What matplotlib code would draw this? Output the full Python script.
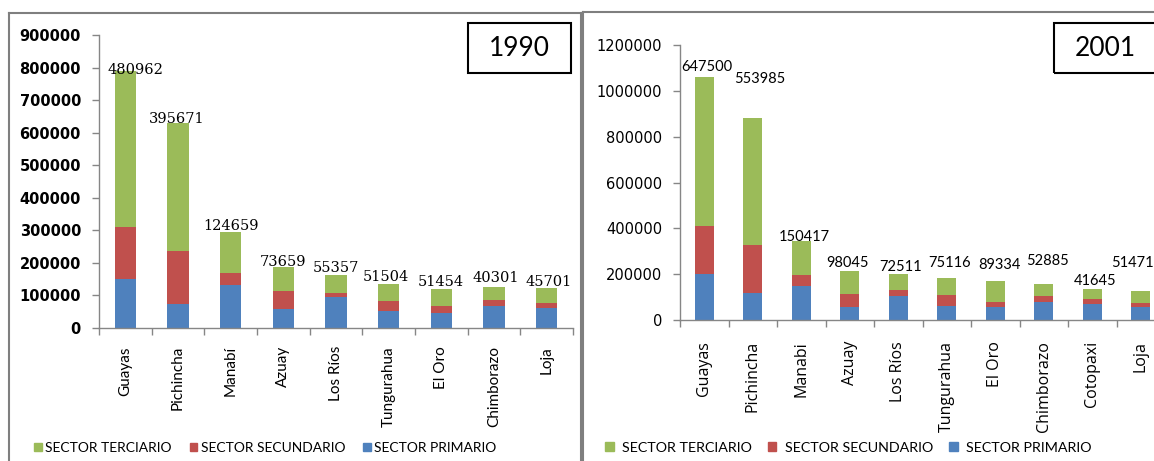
import matplotlib
matplotlib.use("Agg")
import matplotlib.pyplot as plt
from matplotlib.patches import Patch, Rectangle
from matplotlib.lines import Line2D
import numpy as np

# ---------------- data ----------------
prov_1990 = ["Guayas", "Pichincha", "Manabí", "Azuay", "Los Ríos",
             "Tungurahua", "El Oro", "Chimborazo", "Loja"]
primario_1990 = [151000, 75000, 133000, 58000, 96000, 53000, 47000, 69000, 62000]
secundario_1990 = [158000, 160000, 37000, 57000, 12000, 30000, 21000, 17000, 15000]
terciario_1990 = [480962, 395671, 124659, 73659, 55357, 51504, 51454, 40301, 45701]

prov_2001 = ["Guayas", "Pichincha", "Manabi", "Azuay", "Los Ríos",
             "Tungurahua", "El Oro", "Chimborazo", "Cotopaxi", "Loja"]
primario_2001 = [200000, 116000, 150000, 55000, 106000, 62000, 58000, 80000, 70000, 58000]
secundario_2001 = [211000, 211000, 45000, 60000, 24000, 45000, 22000, 23000, 22000, 16000]
terciario_2001 = [647500, 553985, 150417, 98045, 72511, 75116, 89334, 52885, 41645, 51471]

series_names = ["SECTOR TERCIARIO", "SECTOR SECUNDARIO", "SECTOR PRIMARIO"]

# label nudges (pixels, dx / dy above bar top) - styling only
nudge_1990 = [(10, 1), (-1, 4), (0, 6), (0, 5), (0, 7), (-3, 7), (-1, 7), (2, 9), (2, 6)]
nudge_2001 = [(3, 10), (7, 39), (3, 4), (-2, 8), (2, 7), (3, 15), (4, 16), (4, 23), (3, 8), (-8, 28)]

C_PRI = "#4F81BD"
C_SEC = "#C0504D"
C_TER = "#9BBB59"
AX_GRAY = "#868686"

W, H = 1154, 461
fig = plt.figure(figsize=(W / 100, H / 100), dpi=100)


def fx(px):
    return px / W


def fy(py):
    return 1 - py / H


def draw_panel(ax, cats, pri, sec, ter, ymax, ystep, nudges,
               ytick_kw, xlab_kw, xpad, dlab_kw):
    x = np.arange(len(cats))
    pri = np.array(pri)
    sec = np.array(sec)
    ter = np.array(ter)
    w = 0.4
    ax.bar(x, pri, w, color=C_PRI, linewidth=0)
    ax.bar(x, sec, w, bottom=pri, color=C_SEC, linewidth=0)
    ax.bar(x, ter, w, bottom=pri + sec, color=C_TER, linewidth=0)
    tops = pri + sec + ter
    for xi, t, v, (dx, dy) in zip(x, tops, ter, nudges):
        ax.annotate(f"{v}", (xi, t), xytext=(dx * 0.72, dy * 0.72),
                    textcoords="offset points", ha="center", va="center",
                    annotation_clip=False, **dlab_kw)
    ax.set_xlim(-0.5, len(cats) - 0.5)
    ax.set_ylim(0, ymax)
    ax.set_yticks(np.arange(0, ymax + 1, ystep))
    ax.set_yticklabels([f"{int(v)}" for v in np.arange(0, ymax + 1, ystep)], **ytick_kw)
    ax.set_xticks(x)
    ax.set_xticklabels(cats, rotation=90, **xlab_kw)
    ax.set_xticks(np.arange(-0.5, len(cats)), minor=True)
    ax.tick_params(axis="x", which="major", length=0, pad=xpad)
    ax.tick_params(axis="x", which="minor", length=5, color=AX_GRAY, width=1)
    ax.tick_params(axis="y", length=5, color=AX_GRAY, width=1, pad=8)
    for s in ("top", "right"):
        ax.spines[s].set_visible(False)
    for s in ("left", "bottom"):
        ax.spines[s].set_color(AX_GRAY)
        ax.spines[s].set_linewidth(1)


# ---------------- left panel (1990) ----------------
ax1 = fig.add_axes([fx(99), fy(328), fx(573) - fx(99), (328 - 35) / H])
draw_panel(ax1, prov_1990, primario_1990, secundario_1990, terciario_1990,
           900000, 100000, nudge_1990,
           dict(fontsize=10.5, fontweight="bold", family="DejaVu Sans"),
           dict(fontsize=11, family=["Lato", "DejaVu Sans"]), 13,
           dict(fontsize=10.5, family="DejaVu Serif"))

# ---------------- right panel (2001) ----------------
ax2 = fig.add_axes([fx(680), fy(320), (1165 - 680) / W, (320 - 45) / H])
draw_panel(ax2, prov_2001, primario_2001, secundario_2001, terciario_2001,
           1200000, 200000, nudge_2001,
           dict(fontsize=10.5, family="DejaVu Sans"),
           dict(fontsize=11.5, family=["Open Sans", "DejaVu Sans"]), 15,
           dict(fontsize=10.5, family=["Lato", "DejaVu Sans"]))

# ---------------- legends ----------------
handles = [Patch(color=C_TER), Patch(color=C_SEC), Patch(color=C_PRI)]
leg1 = fig.legend(handles, series_names, loc="center left", ncol=3,
                  bbox_to_anchor=(fx(34), fy(448)), frameon=False,
                  prop=dict(family=["Lato", "DejaVu Sans"], size=10),
                  handlelength=0.55, handleheight=0.55, handletextpad=0.25,
                  columnspacing=1.3, borderpad=0, borderaxespad=0)
leg2 = fig.legend(handles, series_names, loc="center left", ncol=3,
                  bbox_to_anchor=(fx(605), fy(448)), frameon=False,
                  prop=dict(family=["Lato", "DejaVu Sans"], size=10.3),
                  handlelength=0.6, handleheight=0.6, handletextpad=0.6,
                  columnspacing=1.1, borderpad=0, borderaxespad=0)

# ---------------- year boxes ----------------
fig.patches.append(Rectangle((fx(468), fy(73)), fx(103), (73 - 23) / H,
                             transform=fig.transFigure, fill=False,
                             edgecolor="black", linewidth=1.5))
fig.text(fx(519), fy(48), "1990", ha="center", va="center", fontsize=19,
         family=["Lato", "DejaVu Sans"])
fig.patches.append(Rectangle((fx(1054), fy(73)), fx(103), (73 - 23) / H,
                             transform=fig.transFigure, fill=False,
                             edgecolor="black", linewidth=1.5))
fig.text(fx(1105), fy(48), "2001", ha="center", va="center", fontsize=19,
         family=["Lato", "DejaVu Sans"])

# ---------------- panel borders ----------------
BORDER = "#7F7F7F"
for xs, ys in [((9, 9), (461, 12.7)), ((9, 581), (12.7, 12.7)), ((581, 581), (12.7, 461)),
               ((583, 583), (461, 11.7)), ((583, 1154), (11.7, 11.7))]:
    fig.add_artist(Line2D([fx(v) for v in xs], [fy(v) for v in ys],
                          transform=fig.transFigure, color=BORDER, linewidth=1.5))

fig.savefig("out.png", dpi=100)
